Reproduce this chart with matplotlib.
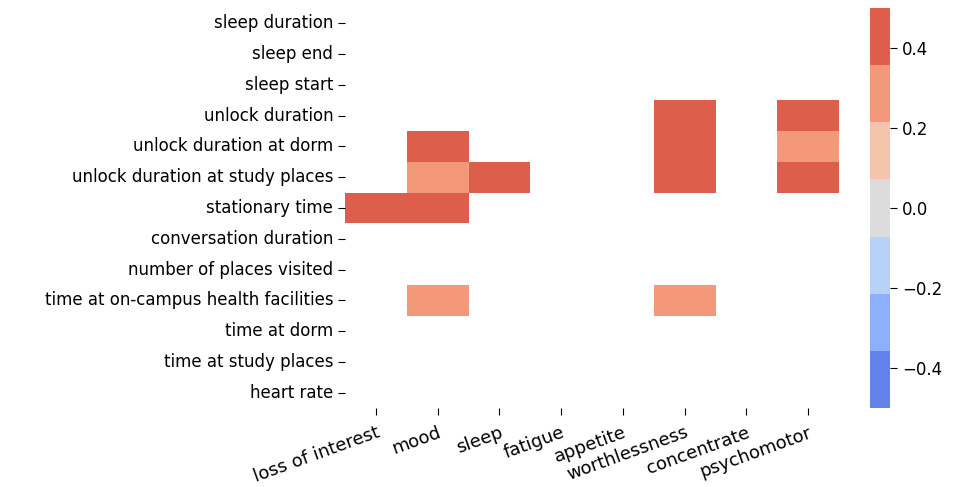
import numpy as np
import pandas as pd
import matplotlib
matplotlib.use('Agg')
import matplotlib.pyplot as plt
import seaborn as sns

features = ['sleep duration', 'sleep end', 'sleep start', 'unlock duration',
            'unlock duration at dorm', 'unlock duration at study places',
            'stationary time', 'conversation duration', 'number of places visited',
            'time at on-campus health facilities', 'time at dorm',
            'time at study places', 'heart rate']
symptoms = ['loss of interest', 'mood', 'sleep', 'fatigue', 'appetite',
            'worthlessness', 'concentrate', 'psychomotor']

# significant correlations only, the rest is blank
nan = np.nan
corr = [
    [nan, nan, nan, nan, nan, nan, nan, nan],
    [nan, nan, nan, nan, nan, nan, nan, nan],
    [nan, nan, nan, nan, nan, nan, nan, nan],
    [nan, nan, nan, nan, nan, 0.45, nan, 0.45],
    [nan, 0.45, nan, nan, nan, 0.45, nan, 0.3],
    [nan, 0.3, 0.45, nan, nan, 0.45, nan, 0.45],
    [0.45, 0.45, nan, nan, nan, nan, nan, nan],
    [nan, nan, nan, nan, nan, nan, nan, nan],
    [nan, nan, nan, nan, nan, nan, nan, nan],
    [nan, 0.3, nan, nan, nan, 0.3, nan, nan],
    [nan, nan, nan, nan, nan, nan, nan, nan],
    [nan, nan, nan, nan, nan, nan, nan, nan],
    [nan, nan, nan, nan, nan, nan, nan, nan],
]
df = pd.DataFrame(corr, index=features, columns=symptoms)

fig = plt.figure(figsize=(9.54, 4.87), dpi=100)
ax = fig.add_axes([0.3616, 0.162, 0.518, 0.8216])
cax = fig.add_axes([0.912, 0.162, 0.021, 0.8216])

cmap = sns.color_palette('coolwarm', 7)
sns.heatmap(df, ax=ax, cbar_ax=cax, cmap=cmap, vmin=-0.5, vmax=0.5,
            mask=df.isnull())

ax.tick_params(axis='both', labelsize=12, length=5)
ax.tick_params(axis='x', labelsize=13, pad=6)
ax.set_yticklabels(features, rotation=0)
ax.set_xticklabels(symptoms, rotation=20, ha='right', rotation_mode='anchor')
cax.tick_params(labelsize=12, length=5)
cax.set_yticks([-0.4, -0.2, 0.0, 0.2, 0.4])
for s in cax.spines.values():
    s.set_visible(False)

fig.savefig('out.png', dpi=100)
